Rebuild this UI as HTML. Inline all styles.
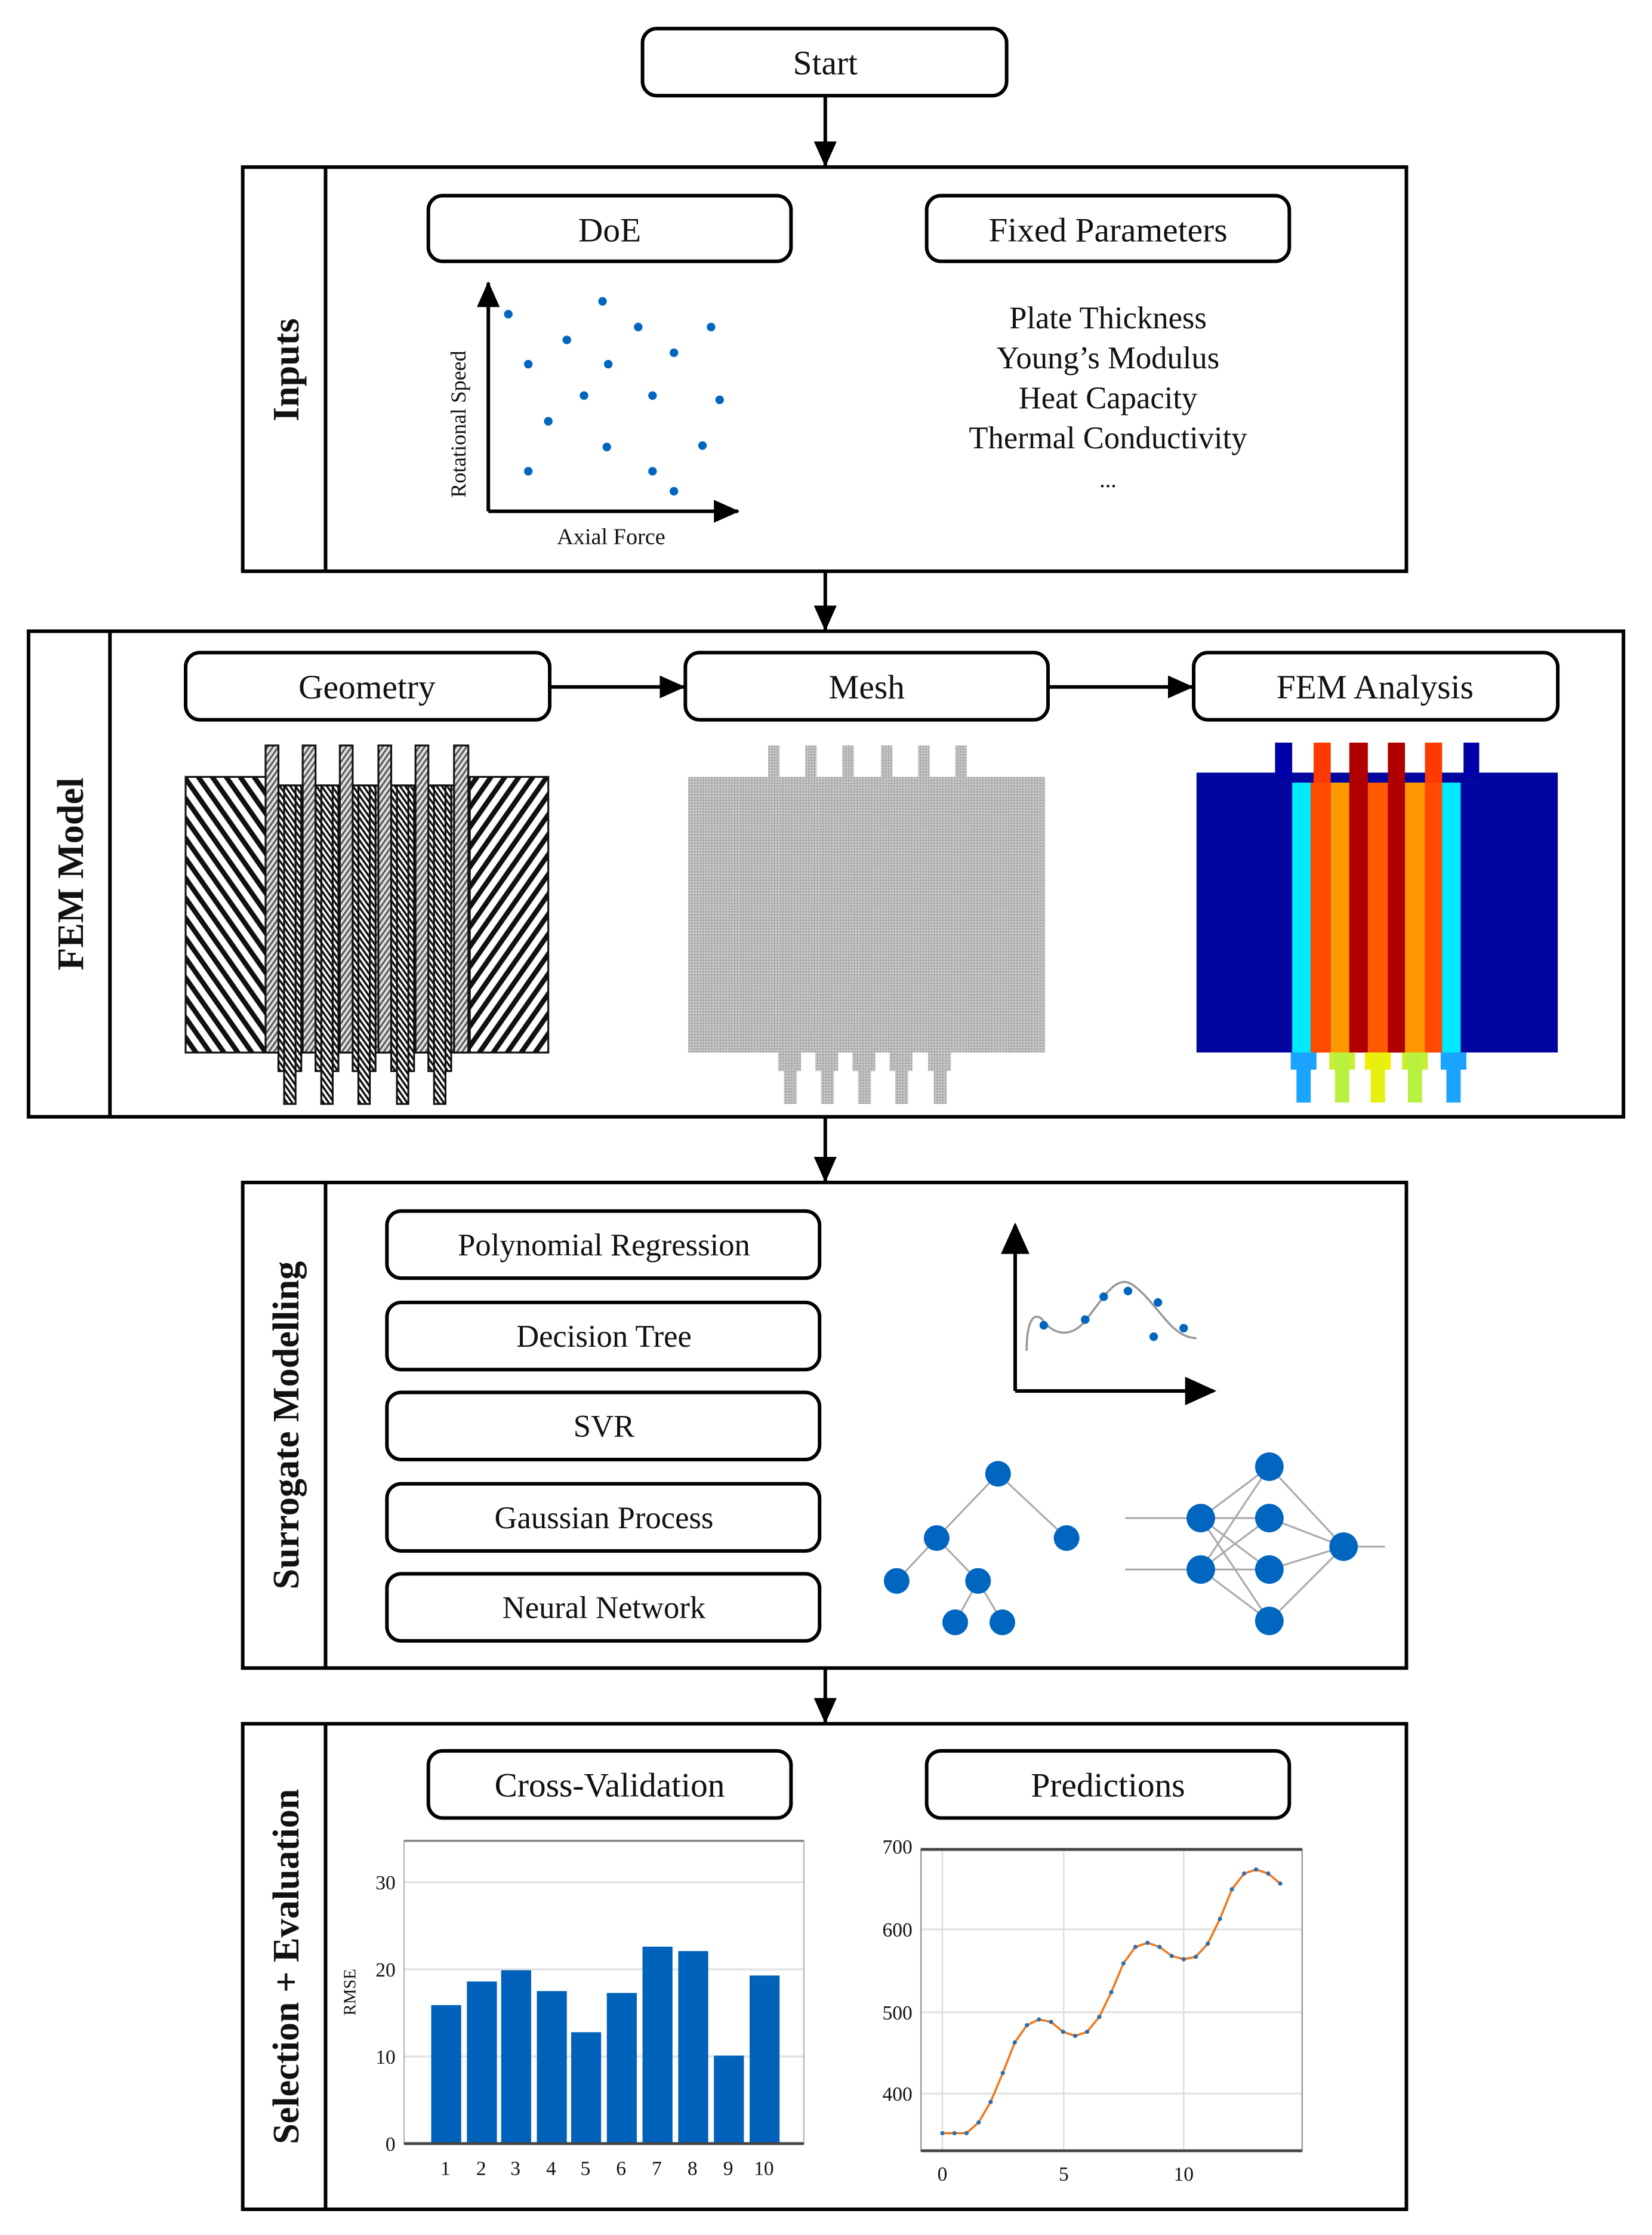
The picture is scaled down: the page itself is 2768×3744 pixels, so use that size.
<!DOCTYPE html>
<html><head><meta charset="utf-8"><style>
html,body{margin:0;padding:0;background:#fff;}
svg{display:block;}
text{font-family:"Liberation Serif",serif;fill:#111;}
</style></head><body>
<svg width="2768" height="3744" viewBox="0 0 1157 1565" preserveAspectRatio="none" xmlns="http://www.w3.org/2000/svg">
<defs>
<marker id="ah" markerWidth="18" markerHeight="18" refX="17" refY="9" orient="auto" markerUnits="userSpaceOnUse"><path d="M0,1 L18,9 L0,17 z" fill="#000"/></marker>
<marker id="ahb" markerWidth="22" markerHeight="20" refX="20" refY="10" orient="auto" markerUnits="userSpaceOnUse"><path d="M0,0 L22,10 L0,20 z" fill="#000"/></marker>
<pattern id="hL" width="8" height="8" patternUnits="userSpaceOnUse" patternTransform="rotate(-35)"><rect width="8" height="8" fill="#fff"/><rect width="3.5" height="8" fill="#111"/></pattern>
<pattern id="hR" width="8" height="8" patternUnits="userSpaceOnUse" patternTransform="rotate(35)"><rect width="8" height="8" fill="#fff"/><rect width="3.5" height="8" fill="#111"/></pattern>
<pattern id="hF" width="3" height="3" patternUnits="userSpaceOnUse" patternTransform="rotate(35)"><rect width="3" height="3" fill="#ddd"/><rect width="1.2" height="3" fill="#555"/></pattern>
<pattern id="hD" width="3" height="3" patternUnits="userSpaceOnUse" patternTransform="rotate(-35)"><rect width="3" height="3" fill="#fff"/><rect width="1.5" height="3" fill="#111"/></pattern>
<pattern id="mesh" width="2" height="2" patternUnits="userSpaceOnUse"><rect width="2" height="2" fill="#c4c4c4"/><rect width="1" height="1" fill="#9a9a9a"/></pattern>
</defs>

<!-- Start -->
<rect x="450" y="20" width="255" height="47" rx="10" fill="#fff" stroke="#000" stroke-width="2.5"/>
<text x="578" y="52" font-size="24" text-anchor="middle">Start</text>
<line x1="578" y1="67" x2="578" y2="116" stroke="#000" stroke-width="2.5" marker-end="url(#ah)"/>

<!-- Inputs -->
<rect x="170" y="117" width="815" height="283" fill="none" stroke="#000" stroke-width="2.5"/>
<line x1="228" y1="117" x2="228" y2="400" stroke="#000" stroke-width="2.5"/>
<text transform="translate(209,259) rotate(-90)" font-size="26" font-weight="bold" text-anchor="middle">Inputs</text>
<rect x="300" y="137" width="254" height="46" rx="10" fill="#fff" stroke="#000" stroke-width="2.5"/>
<text x="427" y="169" font-size="24" text-anchor="middle">DoE</text>
<rect x="649" y="137" width="254" height="46" rx="10" fill="#fff" stroke="#000" stroke-width="2.5"/>
<text x="776" y="169" font-size="24" text-anchor="middle">Fixed Parameters</text>
<line x1="342" y1="358" x2="342" y2="198" stroke="#000" stroke-width="2.5" marker-end="url(#ah)"/>
<line x1="342" y1="358" x2="517" y2="358" stroke="#000" stroke-width="2.5" marker-end="url(#ah)"/>
<g fill="#0066c0">
<circle cx="356" cy="220" r="3"/><circle cx="422" cy="211" r="3"/><circle cx="447" cy="229" r="3"/><circle cx="498" cy="229" r="3"/>
<circle cx="397" cy="238" r="3"/><circle cx="472" cy="247" r="3"/><circle cx="370" cy="255" r="3"/><circle cx="426" cy="255" r="3"/>
<circle cx="409" cy="277" r="3"/><circle cx="457" cy="277" r="3"/><circle cx="504" cy="280" r="3"/><circle cx="384" cy="295" r="3"/>
<circle cx="425" cy="313" r="3"/><circle cx="492" cy="312" r="3"/><circle cx="370" cy="330" r="3"/><circle cx="457" cy="330" r="3"/><circle cx="472" cy="344" r="3"/>
</g>
<text transform="translate(326,297) rotate(-90)" font-size="15" text-anchor="middle">Rotational Speed</text>
<text x="428" y="381" font-size="16" text-anchor="middle">Axial Force</text>
<g font-size="22" text-anchor="middle">
<text x="776" y="230">Plate Thickness</text>
<text x="776" y="258">Young’s Modulus</text>
<text x="776" y="286">Heat Capacity</text>
<text x="776" y="314">Thermal Conductivity</text>
<text x="776" y="341" font-size="16">...</text>
</g>
<line x1="578" y1="400" x2="578" y2="441" stroke="#000" stroke-width="2.5" marker-end="url(#ah)"/>

<!-- FEM Model -->
<rect x="20" y="442" width="1117" height="340" fill="none" stroke="#000" stroke-width="2.5"/>
<line x1="77" y1="442" x2="77" y2="782" stroke="#000" stroke-width="2.5"/>
<text transform="translate(58,612) rotate(-90)" font-size="26" font-weight="bold" text-anchor="middle">FEM Model</text>
<rect x="130" y="457" width="255" height="47" rx="10" fill="#fff" stroke="#000" stroke-width="2.5"/>
<text x="257" y="489" font-size="24" text-anchor="middle">Geometry</text>
<rect x="480" y="457" width="254" height="47" rx="10" fill="#fff" stroke="#000" stroke-width="2.5"/>
<text x="607" y="489" font-size="24" text-anchor="middle">Mesh</text>
<rect x="836" y="457" width="255" height="47" rx="10" fill="#fff" stroke="#000" stroke-width="2.5"/>
<text x="963" y="489" font-size="24" text-anchor="middle">FEM Analysis</text>
<line x1="385" y1="481" x2="479" y2="481" stroke="#000" stroke-width="2.5" marker-end="url(#ah)"/>
<line x1="734" y1="481" x2="835" y2="481" stroke="#000" stroke-width="2.5" marker-end="url(#ah)"/>

<!-- Geometry drawing -->
<g stroke="#111" stroke-width="1.3">
<rect x="130" y="544" width="57" height="193" fill="url(#hL)"/>
<rect x="329" y="544" width="55" height="193" fill="url(#hR)"/>
<rect x="187" y="550" width="142" height="187" fill="url(#hF)"/>
<g fill="url(#hD)">
<rect x="195" y="550" width="16" height="200"/><rect x="221" y="550" width="16" height="200"/><rect x="247" y="550" width="16" height="200"/><rect x="274" y="550" width="16" height="200"/><rect x="300" y="550" width="16" height="200"/>
<rect x="199" y="550" width="8" height="223"/><rect x="225" y="550" width="8" height="223"/><rect x="251" y="550" width="8" height="223"/><rect x="278" y="550" width="8" height="223"/><rect x="304" y="550" width="8" height="223"/>
</g>
<g fill="url(#hF)">
<rect x="186" y="522" width="9" height="215"/><rect x="212" y="522" width="9" height="215"/><rect x="238" y="522" width="9" height="215"/><rect x="265" y="522" width="9" height="215"/><rect x="291" y="522" width="9" height="215"/><rect x="318" y="522" width="10" height="215"/>
</g>
</g>

<!-- Mesh drawing -->
<g fill="url(#mesh)">
<rect x="482" y="544" width="250" height="193"/>
<rect x="538" y="522" width="8" height="24"/><rect x="564" y="522" width="8" height="24"/><rect x="590" y="522" width="8" height="24"/><rect x="617" y="522" width="8" height="24"/><rect x="643" y="522" width="8" height="24"/><rect x="669" y="522" width="8" height="24"/>
<rect x="545" y="736" width="16" height="14"/><rect x="571" y="736" width="16" height="14"/><rect x="597" y="736" width="16" height="14"/><rect x="623" y="736" width="16" height="14"/><rect x="650" y="736" width="16" height="14"/>
<rect x="549" y="736" width="9" height="37"/><rect x="575" y="736" width="9" height="37"/><rect x="601" y="736" width="9" height="37"/><rect x="627" y="736" width="9" height="37"/><rect x="654" y="736" width="9" height="37"/>
</g>

<!-- FEM Analysis drawing -->
<rect x="838" y="541" width="253" height="196" fill="#00069e"/>
<rect x="893" y="520" width="12" height="25" fill="#0000a8"/>
<rect x="1025" y="520" width="11" height="25" fill="#0000a8"/>
<rect x="920" y="520" width="12" height="30" fill="#ff3a00"/>
<rect x="945" y="520" width="13" height="30" fill="#b00000"/>
<rect x="972" y="520" width="12" height="30" fill="#b00000"/>
<rect x="998" y="520" width="12" height="30" fill="#ff3a00"/>
<rect x="905" y="548" width="13" height="189" fill="#00eaff"/>
<rect x="918" y="548" width="14" height="189" fill="#ff4a00"/>
<rect x="932" y="548" width="13" height="189" fill="#ff9800"/>
<rect x="945" y="548" width="13" height="189" fill="#b00000"/>
<rect x="958" y="548" width="14" height="189" fill="#ff5a00"/>
<rect x="972" y="548" width="12" height="189" fill="#b00000"/>
<rect x="984" y="548" width="14" height="189" fill="#ff9800"/>
<rect x="998" y="548" width="12" height="189" fill="#ff4a00"/>
<rect x="1010" y="548" width="13" height="189" fill="#00eaff"/>
<g>
<rect x="904" y="737" width="18" height="12" fill="#1aa4ff"/><rect x="908" y="737" width="10" height="35" fill="#1aa4ff"/>
<rect x="931" y="737" width="18" height="12" fill="#c8f030"/><rect x="935" y="737" width="10" height="35" fill="#b8f040"/>
<rect x="956" y="737" width="18" height="12" fill="#f0f000"/><rect x="960" y="737" width="10" height="35" fill="#e6f010"/>
<rect x="982" y="737" width="18" height="12" fill="#c8f030"/><rect x="986" y="737" width="10" height="35" fill="#b8f040"/>
<rect x="1009" y="737" width="18" height="12" fill="#1aa4ff"/><rect x="1013" y="737" width="10" height="35" fill="#1aa4ff"/>
</g>
<line x1="578" y1="782" x2="578" y2="827" stroke="#000" stroke-width="2.5" marker-end="url(#ah)"/>

<!-- Surrogate Modelling -->
<rect x="170" y="828" width="815" height="340" fill="none" stroke="#000" stroke-width="2.5"/>
<line x1="228" y1="828" x2="228" y2="1168" stroke="#000" stroke-width="2.5"/>
<text transform="translate(209,998) rotate(-90)" font-size="26" font-weight="bold" text-anchor="middle">Surrogate Modelling</text>
<g font-size="22" text-anchor="middle">
<rect x="271" y="848" width="303" height="47" rx="10" fill="#fff" stroke="#000" stroke-width="2.5"/><text x="423" y="879">Polynomial Regression</text>
<rect x="271" y="912" width="303" height="47" rx="10" fill="#fff" stroke="#000" stroke-width="2.5"/><text x="423" y="943">Decision Tree</text>
<rect x="271" y="975" width="303" height="47" rx="10" fill="#fff" stroke="#000" stroke-width="2.5"/><text x="423" y="1006">SVR</text>
<rect x="271" y="1039" width="303" height="47" rx="10" fill="#fff" stroke="#000" stroke-width="2.5"/><text x="423" y="1070">Gaussian Process</text>
<rect x="271" y="1102" width="303" height="47" rx="10" fill="#fff" stroke="#000" stroke-width="2.5"/><text x="423" y="1133">Neural Network</text>
</g>
<line x1="711" y1="974" x2="711" y2="858" stroke="#000" stroke-width="2.5" marker-end="url(#ahb)"/>
<line x1="711" y1="974" x2="850" y2="974" stroke="#000" stroke-width="2.5" marker-end="url(#ahb)"/>
<path d="M719,946 C719,925 724,918 730,924 C738,935 750,937 760,925 C772,910 780,895 790,898 C800,902 812,920 820,928 C826,934 832,937 838,937" fill="none" stroke="#999" stroke-width="1.5"/>
<g fill="#0066c0"><circle cx="731" cy="928" r="3"/><circle cx="760" cy="924" r="3"/><circle cx="773" cy="908" r="3"/><circle cx="790" cy="904" r="3"/><circle cx="808" cy="936" r="3"/><circle cx="811" cy="912" r="3"/><circle cx="829" cy="930" r="3"/></g>
<g stroke="#aaa" stroke-width="1.3">
<line x1="699" y1="1032" x2="656" y2="1077"/><line x1="699" y1="1032" x2="747" y2="1077"/>
<line x1="656" y1="1077" x2="628" y2="1107"/><line x1="656" y1="1077" x2="685" y2="1107"/>
<line x1="685" y1="1107" x2="669" y2="1136"/><line x1="685" y1="1107" x2="702" y2="1136"/>
<line x1="788" y1="1063" x2="841" y2="1063"/><line x1="788" y1="1099" x2="841" y2="1099"/><line x1="941" y1="1083" x2="970" y2="1083"/>
<line x1="841" y1="1063" x2="889" y2="1027"/><line x1="841" y1="1063" x2="889" y2="1063"/><line x1="841" y1="1063" x2="889" y2="1099"/><line x1="841" y1="1063" x2="889" y2="1135"/>
<line x1="841" y1="1099" x2="889" y2="1027"/><line x1="841" y1="1099" x2="889" y2="1063"/><line x1="841" y1="1099" x2="889" y2="1099"/><line x1="841" y1="1099" x2="889" y2="1135"/>
<line x1="889" y1="1027" x2="941" y2="1083"/><line x1="889" y1="1063" x2="941" y2="1083"/><line x1="889" y1="1099" x2="941" y2="1083"/><line x1="889" y1="1135" x2="941" y2="1083"/>
</g>
<g fill="#0066c0">
<circle cx="699" cy="1032" r="9"/><circle cx="656" cy="1077" r="9"/><circle cx="747" cy="1077" r="9"/><circle cx="628" cy="1107" r="9"/><circle cx="685" cy="1107" r="9"/><circle cx="669" cy="1136" r="9"/><circle cx="702" cy="1136" r="9"/>
<circle cx="841" cy="1063" r="10"/><circle cx="841" cy="1099" r="10"/><circle cx="889" cy="1027" r="10"/><circle cx="889" cy="1063" r="10"/><circle cx="889" cy="1099" r="10"/><circle cx="889" cy="1135" r="10"/><circle cx="941" cy="1083" r="10"/>
</g>
<line x1="578" y1="1168" x2="578" y2="1206" stroke="#000" stroke-width="2.5" marker-end="url(#ah)"/>

<!-- Selection + Evaluation -->
<rect x="170" y="1207" width="815" height="340" fill="none" stroke="#000" stroke-width="2.5"/>
<line x1="228" y1="1207" x2="228" y2="1547" stroke="#000" stroke-width="2.5"/>
<text transform="translate(209,1377) rotate(-90)" font-size="26" font-weight="bold" text-anchor="middle">Selection + Evaluation</text>
<rect x="300" y="1226" width="254" height="47" rx="10" fill="#fff" stroke="#000" stroke-width="2.5"/>
<text x="427" y="1258" font-size="24" text-anchor="middle">Cross-Validation</text>
<rect x="649" y="1226" width="254" height="47" rx="10" fill="#fff" stroke="#000" stroke-width="2.5"/>
<text x="776" y="1258" font-size="24" text-anchor="middle">Predictions</text>

<!-- bar chart -->
<g stroke="#e4e4e4" stroke-width="1.5"><line x1="283" y1="1318" x2="563" y2="1318"/><line x1="283" y1="1379" x2="563" y2="1379"/><line x1="283" y1="1440" x2="563" y2="1440"/></g>
<rect x="283" y="1289" width="280" height="212" fill="none" stroke="#bbb" stroke-width="1"/>
<line x1="283" y1="1289" x2="563" y2="1289" stroke="#888" stroke-width="1.5"/>
<g fill="#0062bb">
<rect x="302" y="1404" width="21" height="97"/><rect x="327" y="1387.5" width="21" height="113.5"/><rect x="351" y="1379.6" width="21" height="121.4"/><rect x="376" y="1394.2" width="21" height="106.8"/><rect x="400" y="1423" width="21" height="78"/>
<rect x="425" y="1395.5" width="21" height="105.5"/><rect x="450" y="1363.1" width="21" height="137.9"/><rect x="475" y="1366.2" width="21" height="134.8"/><rect x="500" y="1439.4" width="21" height="61.6"/><rect x="525" y="1383.3" width="21" height="117.7"/>
</g>
<line x1="283" y1="1501" x2="563" y2="1501" stroke="#444" stroke-width="2"/>
<g font-size="14" text-anchor="end"><text x="277" y="1506">0</text><text x="277" y="1445">10</text><text x="277" y="1384">20</text><text x="277" y="1323">30</text></g>
<text transform="translate(249,1395) rotate(-90)" font-size="12" text-anchor="middle">RMSE</text>
<g font-size="14" text-anchor="middle"><text x="312" y="1523">1</text><text x="337" y="1523">2</text><text x="361" y="1523">3</text><text x="386" y="1523">4</text><text x="410" y="1523">5</text><text x="435" y="1523">6</text><text x="460" y="1523">7</text><text x="485" y="1523">8</text><text x="510" y="1523">9</text><text x="535" y="1523">10</text></g>

<!-- predictions chart -->
<g stroke="#e4e4e4" stroke-width="1.5"><line x1="645" y1="1351" x2="912" y2="1351"/><line x1="645" y1="1409" x2="912" y2="1409"/><line x1="645" y1="1466" x2="912" y2="1466"/></g>
<g stroke="#ddd" stroke-width="1"><line x1="745" y1="1295" x2="745" y2="1506"/><line x1="829" y1="1295" x2="829" y2="1506"/><line x1="660" y1="1295" x2="660" y2="1506"/></g>
<rect x="645" y="1295" width="267" height="211" fill="none" stroke="#999" stroke-width="1"/>
<line x1="645" y1="1295" x2="912" y2="1295" stroke="#444" stroke-width="2"/>
<line x1="645" y1="1506" x2="912" y2="1506" stroke="#444" stroke-width="2"/>
<polyline fill="none" stroke="#f07820" stroke-width="1.5" points="660,1493.7 668.5,1493.7 676.9,1493.7 685.4,1486.2 693.8,1471.8 702.3,1451.6 710.7,1430.2 719.2,1418.1 727.6,1414.1 736.1,1415.8 744.5,1422.7 753,1425.6 761.4,1422.7 769.9,1412.3 778.3,1395 786.8,1374.8 795.2,1363.3 803.7,1360.4 812.1,1363.3 820.6,1369.6 829,1371.9 837.5,1370.2 845.9,1361 854.4,1343.7 862.8,1322.9 871.3,1311.9 879.7,1309.1 888.2,1311.9 896.6,1318.9"/>
<g fill="#2a6fb0"><circle cx="660" cy="1493.7" r="1.5"/><circle cx="668.5" cy="1493.7" r="1.5"/><circle cx="676.9" cy="1493.7" r="1.5"/><circle cx="685.4" cy="1486.2" r="1.5"/><circle cx="693.8" cy="1471.8" r="1.5"/><circle cx="702.3" cy="1451.6" r="1.5"/><circle cx="710.7" cy="1430.2" r="1.5"/><circle cx="719.2" cy="1418.1" r="1.5"/><circle cx="727.6" cy="1414.1" r="1.5"/><circle cx="736.1" cy="1415.8" r="1.5"/><circle cx="744.5" cy="1422.7" r="1.5"/><circle cx="753" cy="1425.6" r="1.5"/><circle cx="761.4" cy="1422.7" r="1.5"/><circle cx="769.9" cy="1412.3" r="1.5"/><circle cx="778.3" cy="1395" r="1.5"/><circle cx="786.8" cy="1374.8" r="1.5"/><circle cx="795.2" cy="1363.3" r="1.5"/><circle cx="803.7" cy="1360.4" r="1.5"/><circle cx="812.1" cy="1363.3" r="1.5"/><circle cx="820.6" cy="1369.6" r="1.5"/><circle cx="829" cy="1371.9" r="1.5"/><circle cx="837.5" cy="1370.2" r="1.5"/><circle cx="845.9" cy="1361" r="1.5"/><circle cx="854.4" cy="1343.7" r="1.5"/><circle cx="862.8" cy="1322.9" r="1.5"/><circle cx="871.3" cy="1311.9" r="1.5"/><circle cx="879.7" cy="1309.1" r="1.5"/><circle cx="888.2" cy="1311.9" r="1.5"/><circle cx="896.6" cy="1318.9" r="1.5"/></g>
<g font-size="14" text-anchor="end"><text x="639" y="1298">700</text><text x="639" y="1356">600</text><text x="639" y="1414">500</text><text x="639" y="1471">400</text></g>
<g font-size="14" text-anchor="middle"><text x="660" y="1527">0</text><text x="745" y="1527">5</text><text x="829" y="1527">10</text></g>
</svg>
</body></html>
